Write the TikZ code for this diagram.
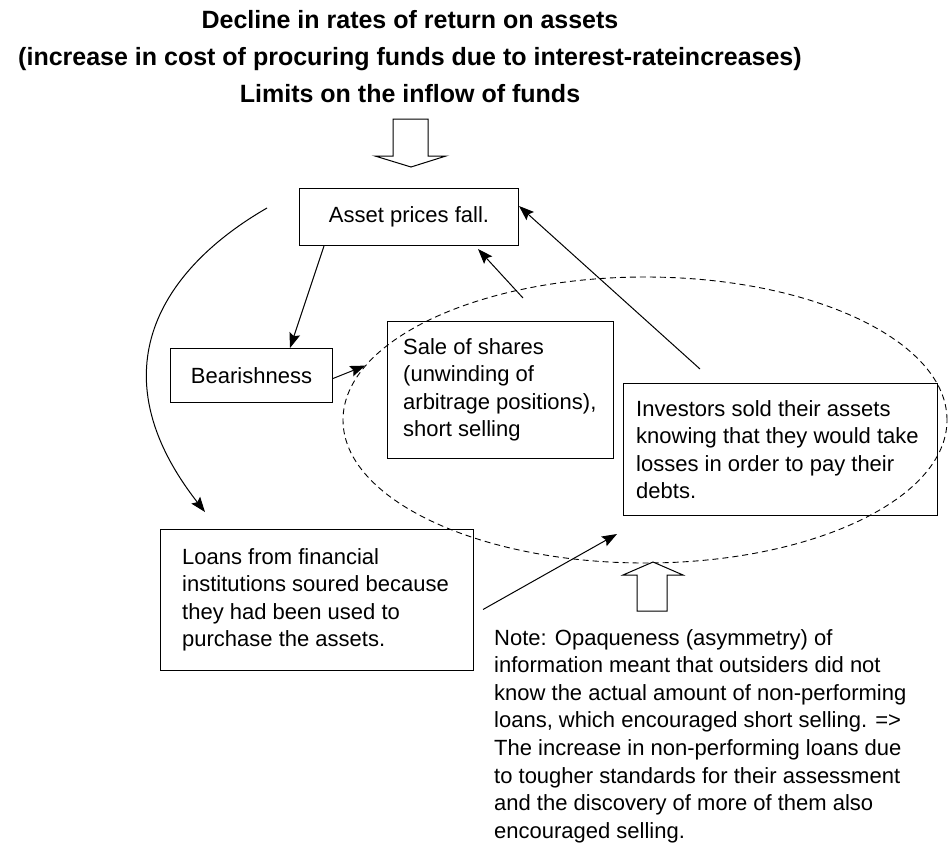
\documentclass[tikz,border=0pt]{standalone}
\usepackage{fontspec}
\setmainfont{Liberation Sans}
\usetikzlibrary{arrows.meta,shapes.geometric}
\begin{document}
\begin{tikzpicture}[x=1pt,y=-1pt,
  every node/.style={inner sep=0pt},
  title/.style={font=\fontsize{25}{30}\selectfont\bfseries, anchor=base},
  box/.style={draw, line width=1pt, anchor=north west, font=\fontsize{22}{27.5}\selectfont},
  txt/.style={anchor=west, align=left, font=\fontsize{22}{27.5}\selectfont},
  conn/.style={-{Stealth[length=15pt,width=11pt,inset=2.5pt]}, line width=1pt},
  hollow/.style={draw, line width=1pt, fill=white},
  oval/.style={ellipse, draw, line width=0.9pt, dash pattern=on 6pt off 4pt}
]
\useasboundingbox (0,0) rectangle (949,846);

% title
\node[title] (t1) at (410,28) {Decline in rates of return on assets};
\node[title] (t2) at (410,65) {(increase in cost of procuring funds due to interest-rateincreases)};
\node[title] (t3) at (410,102) {Limits on the inflow of funds};

% dashed ellipse
\node[oval, minimum width=604pt, minimum height=286pt] (ring) at (645,420) {};

% hollow arrows
\draw[hollow] (393,119) -- (428,119) -- (428,156) -- (446,156) -- (411,167) -- (375,156) -- (393,156) -- cycle;
\draw[hollow] (637,611) -- (667,611) -- (667,575) -- (683,575) -- (653,562) -- (623,575) -- (637,575) -- cycle;

% boxes
\node[box, minimum width=219pt, minimum height=57pt] (asset) at (299,188) {Asset prices fall.};
\node[box, minimum width=162pt, minimum height=54pt] (bear) at (170,348) {Bearishness};
\node[box, minimum width=226pt, minimum height=137pt] (sale) at (387,321) {};
\node[txt] (saletxt) at ([xshift=16pt]sale.west)
  {Sale of shares\\(unwinding of\\arbitrage positions),\\short selling};
\node[box, minimum width=314pt, minimum height=132pt] (inv) at (623,383) {};
\node[txt] (invtxt) at ([xshift=13pt]inv.west)
  {Investors sold their assets\\knowing that they would take\\losses in order to pay their\\debts.};
\node[box, minimum width=313pt, minimum height=141pt] (loans) at (160,529) {};
\node[txt] (loanstxt) at ([xshift=22pt]loans.west)
  {Loans from financial\\institutions soured because\\they had been used to\\purchase the assets.};
\node[anchor=north west, align=left, font=\fontsize{22}{27.6}\selectfont] (note) at (494,629)
  {Note: Opaqueness (asymmetry) of\\information meant that outsiders did not\\know the actual amount of non-performing\\loans, which encouraged short selling. =>\\The increase in non-performing loans due\\to tougher standards for their assessment\\and the discovery of more of them also\\encouraged selling.};

% free ends
\coordinate (cstart) at (267,208);
\coordinate (cend) at (205,512);
\coordinate (saletail) at (523,298);
\coordinate (invtail) at ([xshift=77pt,yshift=14pt]inv.north west);
\coordinate (loanstail) at ([xshift=9pt,yshift=-9.5pt]loans.east);
\coordinate (loanstip) at (617,534);

% connectors
\draw[conn] ([xshift=25pt]asset.south west) -- ([xshift=120pt]bear.north west);
\draw[conn] ([yshift=-3pt]bear.east) -- (ring.169);
\draw[conn] (cstart) .. controls (163,268) and (94,370) .. (cend);
\draw[conn] (saletail) -- ([xshift=-41pt,yshift=-3pt]asset.south east);
\draw[conn] (invtail) -- ([yshift=11pt]asset.east);
\draw[conn] (loanstail) -- (loanstip);
\end{tikzpicture}
\end{document}
